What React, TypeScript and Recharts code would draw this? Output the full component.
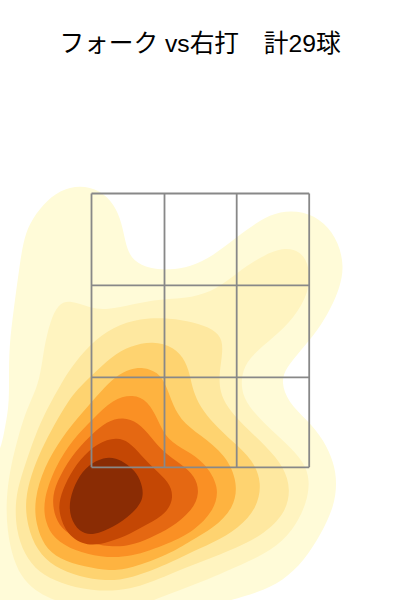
import React from "react";
import { ScatterChart, Scatter, XAxis, YAxis } from "recharts";

const title = "フォーク vs右打　計29球";

// density contour outlines, lowest level first, in plot units (0-400 / 0-600)
const level1 = [[80,185],[100,190],[114,204],[122,223],[126,247],[133,261],[150,269],[170,270],[190,267],[213,256],[237,237],[260,220],[280,211],[303,211],[325,222],[339,243],[344,267],[340,287],[331,308],[318,330],[301,350],[286,368],[281,382],[288,402],[307,420],[324,440],[334,463],[337,483],[334,507],[321,534],[304,561],[283,581],[257,593],[227,601],[190,612],[100,625],[-25,625],[-25,480],[-1,457],[4,433],[9,407],[9,380],[9,347],[14,307],[19,270],[23,243],[29,224],[43,204],[60,190]];
const level2 = [[70,300],[90,308],[107,310],[133,304],[160,299],[193,298],[217,289],[237,273],[260,257],[283,247],[301,251],[310,267],[309,293],[294,318],[273,338],[253,354],[242,370],[241,390],[248,406],[267,426],[287,444],[304,462],[310,480],[307,503],[293,531],[271,551],[243,564],[197,584],[150,601],[130,610],[85,608],[55,601],[39,593],[24,581],[13,560],[7,530],[6,500],[10,470],[16,445],[23,420],[31,400],[40,380],[44,347],[50,322],[58,304]];
const level3 = [[70,369],[90,344],[113,327],[140,318],[170,318],[193,322],[214,329],[223,340],[222,357],[219,375],[220,392],[227,407],[243,425],[267,447],[284,467],[291,490],[285,514],[264,534],[237,548],[203,561],[170,574],[130,591],[90,591],[60,583],[39,573],[24,554],[16,530],[15,500],[21,477],[30,450],[40,423],[52,400],[61,384]];
const level4 = [[153,341],[174,347],[186,361],[191,380],[193,390],[200,407],[213,423],[233,442],[253,460],[262,483],[257,508],[239,528],[213,543],[187,554],[170,563],[130,579],[105,581],[80,577],[54,567],[37,551],[27,525],[25,500],[31,475],[41,450],[54,425],[69,400],[77,390],[91,376],[112,356],[130,346]];
const level5 = [[143,367],[158,372],[166,385],[171,400],[180,420],[200,435],[226,455],[238,483],[234,508],[214,528],[190,541],[170,554],[130,569],[110,571],[85,567],[59,559],[44,546],[36,525],[34,500],[44,467],[62,437],[82,413],[101,391],[116,376],[130,369]];
const level6 = [[133,394],[148,401],[158,420],[167,440],[187,451],[204,462],[220,487],[214,511],[194,531],[170,543],[130,558],[100,557],[75,551],[54,539],[45,522],[43,500],[55,467],[73,439],[93,419],[113,399]];
const level7 = [[123,417],[138,422],[151,437],[163,452],[181,464],[195,476],[200,493],[192,511],[171,528],[150,538],[130,546],[110,547],[85,542],[64,532],[55,518],[52,500],[56,483],[71,456],[90,436],[107,421]];
const level8 = [[117,437],[129,442],[141,455],[154,469],[169,482],[174,497],[167,513],[148,524],[130,534],[110,542],[87,547],[67,535],[59,514],[59,500],[67,479],[80,459],[97,443]];
const level9 = [[104,457],[116,458],[127,464],[137,473],[143,487],[143,501],[132,514],[114,527],[93,536],[79,532],[70,518],[69,500],[77,479],[88,465]];

const levels = [level1, level2, level3, level4, level5, level6, level7, level8, level9];
const levelColors = ["#FFFBD8", "#FFF4C0", "#FEE8A0", "#FED370", "#FEB340", "#FA9024", "#E56812", "#C44704", "#8A2C04"];

// strike zone cell borders
const zoneX = [91.5, 164.5, 236.7, 309.2];
const zoneY = [193.5, 285.4, 377.3, 467.3];

const toPoints = (rows: number[][]) => rows.map(([x, y]) => ({ x, y }));

const gridLines = [
  ...zoneX.map((x) => [{ x, y: zoneY[0] }, { x, y: zoneY[3] }]),
  ...zoneY.map((y) => [{ x: zoneX[0], y }, { x: zoneX[3], y }]),
];

export default function App() {
  return (
    <div style={{ position: "absolute", left: 0, top: 0, width: 400, height: 600 }}>
      <div
        style={{
          position: "absolute",
          top: 27,
          width: 400,
          textAlign: "center",
          fontFamily: "'Liberation Sans', 'Noto Sans CJK JP'",
          fontSize: 24.7,
          lineHeight: "34px",
          color: "#000",
        }}
      >
        {title}
      </div>
      <ScatterChart width={400} height={600} margin={{ top: 0, right: 0, bottom: 0, left: 0 }}>
        <XAxis type="number" dataKey="x" domain={[0, 400]} allowDataOverflow hide />
        <YAxis type="number" dataKey="y" domain={[0, 600]} reversed allowDataOverflow hide />
        {levels.map((rows, i) => (
          <Scatter
            key={i}
            data={toPoints(rows)}
            line={{ fill: levelColors[i], stroke: "none" }}
            lineJointType="basisClosed"
            shape={() => <g />}
            isAnimationActive={false}
          />
        ))}
        {gridLines.map((points, i) => (
          <Scatter
            key={`grid-${i}`}
            data={points}
            line={{ stroke: "#888888", strokeWidth: 1.8 }}
            shape={() => <g />}
            isAnimationActive={false}
          />
        ))}
      </ScatterChart>
    </div>
  );
}
